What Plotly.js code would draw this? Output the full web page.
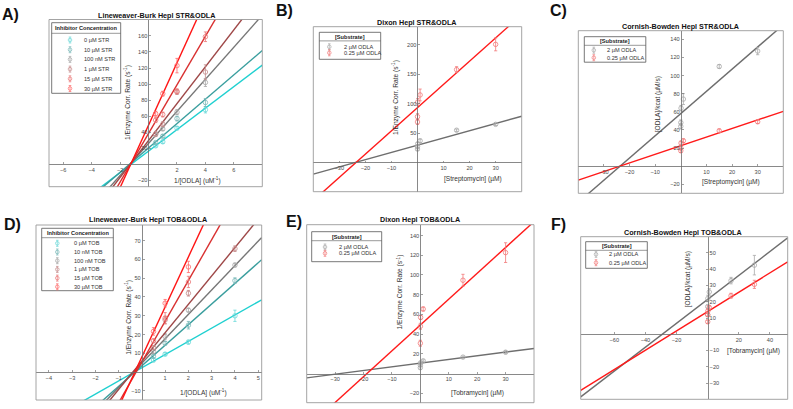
<!DOCTYPE html>
<html>
<head>
<meta charset="utf-8">
<script src="https://cdn.plot.ly/plotly-3.0.1.min.js"></script>
<style>body{margin:0;background:#fff;} #plot{width:793px;height:409px;}</style>
</head>
<body>
<div id="plot"></div>
<script>
var W = 793, H = 409;
var FONT = 'Liberation Sans, Arial, sans-serif';

// ---- values ----
var lbX = [0.5, 1, 2, 4];                    // 1/[ODLA] (uM^-1)
var inhConc = [0, 0.01, 0.1, 1, 15, 30];     // inhibitor (uM)

var inhLine = ['#1fd0d0', '#3a9e9e', '#767676', '#9e4747', '#d93030', '#ff1414'];
var inhMark = ['#6ad9d9', '#78b8b8', '#a6a6a6', '#c48a8a', '#ea7676', '#ff6a6a'];

var strNames = ['0 µM STR', '10 µM STR', '100 nM STR', '1 µM STR', '15 µM STR', '30 µM STR'];
var strLB = [[23, 28, 45, 68], [27, 35, 57, 77], [37, 44, 65, 102],
             [38, 50, 90, 115], [55, 62, 91, 159], [63, 88, 123, 201]];
var strLBerr = [[1.5, 2, 2, 4], [1.5, 2, 3, 5], [2, 2, 3, 5],
                [3, 3, 3, 9], [3, 3, 3, 6], [3, 3, 9, 10]];
var strSlope = [13.4, 15.2, 20, 23, 30.3, 38.9];
var strIcpt = [16.4, 20.3, 26, 29.6, 38.4, 48.7];

var tobNames = ['0 µM TOB', '10 nM TOB', '100 nM TOB', '1 µM TOB', '15 µM TOB', '30 µM TOB'];
var tobLB = [[6.5, 9.6, 16, 30], [8.5, 15.4, 25, 48.7], [11, 19, 33, 57],
             [13, 27.8, 42, 65.7], [16.7, 28.7, 48, 94.7], [21.7, 36.7, 56, 122.7]];
var tobLBerr = [[1, 0.8, 1, 3], [1, 1, 2, 1.5], [1, 1.5, 1, 1],
                [1, 2, 1.5, 1.5], [1, 3, 3, 6], [2, 2, 3, 10]];
var tobSlope = [7.02, 10.96, 12.98, 15.1, 21.7, 26.6];
var tobIcpt = [2.35, 3.4, 4.8, 5.9, 5.4, 8.1];

var subNames = ['2 µM ODLA', '0.25 µM ODLA'];
var subLine = ['#6e6e6e', '#ff1a1a'];
var subMark = ['#a9a9a9', '#f27a7a'];

var strDixon = [[23, 27, 32, 37, 55, 65], [69, 78, 103, 115, 158, 201]];
var strDixonErr = [[2, 2, 2, 3, 2, 2], [4, 5, 6, 10, 5, 11]];
var strDixonSlope = [1.23, 3.95], strDixonIcpt = [29.6, 93.4];

var strCB = [[44, 48, 64, 74, 110, 127], [17, 20, 25.5, 28, 39, 49]];
var strCBerr = [[3, 3, 3, 6, 2, 4], [2, 2, 2, 2, 2, 2]];
var strCBSlope = [2.45, 0.95], strCBIcpt = [58, 22.5];

var tobDixon = [[6, 8.5, 11, 13, 16.7, 21.7], [30.8, 48, 57, 65.5, 94.7, 122.7]];
var tobDixonErr = [[1.5, 1, 1, 1, 1, 1.5], [3, 3, 2, 2, 6, 10]];
var tobDixonSlope = [0.373, 2.62], tobDixonIcpt = [10.6, 49.3];

var tobCB = [[12, 17, 22, 26, 33, 42.5], [7.7, 12, 14.3, 16.5, 23.7, 30.7]];
var tobCBerr = [[1, 1, 2, 2, 2, 6], [1, 1, 1, 1, 1.5, 2.5]];
var tobCBSlope = [0.735, 0.594], tobCBIcpt = [21.5, 14];

// tick labels
var tickAx = [-6, -4, -2, 2, 4, 6], tickAy = [-20, 20, 40, 60, 80, 100, 120, 140, 160];
var tickBx = [-30, -20, -10, 10, 20, 30], tickBy = [50, 100, 150, 200];
var tickCx = [-30, -20, -10, 10, 20, 30], tickCy = [-20, 20, 40, 60, 80, 100, 120, 140];
var tickDx = [-4, -3, -2, -1, 1, 2, 3, 4, 5], tickDy = [-10, 10, 20, 30, 40, 50, 60, 70];
var tickEx = [-30, -20, -10, 10, 20, 30], tickEy = [-20, 20, 40, 60, 80, 100, 120, 140];
var tickFx = [-60, -40, -20, 20, 40], tickFy = [-30, -20, -10, 10, 20, 30, 40, 50];

// ---- panel layout (pixel boxes) ----
var ylabLB = '1/Enzyme Corr. Rate (s<sup>-1</sup>)';
var ylabCB = '[ODLA]/kcat (µM/s)';
var panels = [
  {box: [49, 19.5, 262.3, 186.7], xr: [-7, 8], yr: [-28, 180.5], xt: tickAx, yt: tickAy,
   title: 'Lineweaver-Burk Hepl STR&ODLA', tpos: [156, 15], letter: 'A)', lpos: [10, 14],
   xlab: '1/[ODLA] (uM<sup>-1</sup>)', xlpos: [197, 180], ylab: ylabLB, ylpos: [127, 103]},
  {box: [313.3, 26.7, 521.7, 191.7], xr: [-40, 40], yr: [-49.5, 231], xt: tickBx, yt: tickBy,
   title: 'Dixon Hepl STR&ODLA', tpos: [416.7, 22.5], letter: 'B)', lpos: [284, 11],
   xlab: '[Streptomycin] (µM)', xlpos: [473, 179], ylab: ylabLB, ylpos: [395, 98]},
  {box: [578.3, 30.7, 783.3, 193.3], xr: [-40, 40], yr: [-30, 149.5], xt: tickCx, yt: tickCy,
   title: 'Cornish-Bowden Hepl STR&ODLA', tpos: [680.7, 26.2], letter: 'C)', lpos: [558, 11],
   xlab: '[Streptomycin] (µM)', xlpos: [731, 182.3], ylab: ylabCB, ylpos: [658.3, 104]},
  {box: [36, 225, 261.7, 400], xr: [-4.55, 5.15], yr: [-14.8, 78.3], xt: tickDx, yt: tickDy,
   title: 'Lineweaver-Burk Hepl TOB&ODLA', tpos: [148.3, 219.5], letter: 'D)', lpos: [12.5, 224],
   xlab: '1/[ODLA] (uM<sup>-1</sup>)', xlpos: [203.3, 392.7], ylab: ylabLB, ylpos: [128.3, 317.5]},
  {box: [306.7, 224.7, 534, 402.7], xr: [-40, 40], yr: [-29.5, 151], xt: tickEx, yt: tickEy,
   title: 'Dixon Hepl TOB&ODLA', tpos: [420, 219.8], letter: 'E)', lpos: [294, 221],
   xlab: '[Tobramycin] (µM)', xlpos: [477.3, 392.7], ylab: ylabLB, ylpos: [400, 292.5]},
  {box: [580.7, 236.7, 787.7, 399.3], xr: [-81.6, 51.4], yr: [-40, 60], xt: tickFx, yt: tickFy,
   ySide: 'right',
   title: 'Cornish-Bowden Hepl TOB&ODLA', tpos: [683.3, 232.2], letter: 'F)', lpos: [558, 224],
   xlab: '[Tobramycin] (µM)', xlpos: [753.3, 350.7], ylab: ylabCB, ylpos: [688.3, 279]}
];

var layout = {
  width: W, height: H, margin: {l: 0, r: 0, t: 0, b: 0},
  paper_bgcolor: '#fff', plot_bgcolor: 'rgba(0,0,0,0)',
  showlegend: false, font: {family: FONT, color: '#333'},
  shapes: [], annotations: []
};
var data = [];

function fx(x) { return x / W; }
function fy(y) { return 1 - y / H; }

function note(text, x, y, size, opts) {
  var a = {text: text, x: fx(x), y: fy(y), xref: 'paper', yref: 'paper', showarrow: false,
           xanchor: 'center', yanchor: 'middle', font: {size: size, family: FONT, color: '#333'}};
  for (var k in opts) a[k] = opts[k];
  layout.annotations.push(a);
}

panels.forEach(function (p, i) {
  var sx = i === 0 ? '' : String(i + 1);
  var xd = [fx(p.box[0]), fx(p.box[2])];
  var yd = [fy(p.box[3]), fy(p.box[1])];
  var xPos = xd[0] + (0 - p.xr[0]) / (p.xr[1] - p.xr[0]) * (xd[1] - xd[0]);
  var yPos = yd[0] + (0 - p.yr[0]) / (p.yr[1] - p.yr[0]) * (yd[1] - yd[0]);
  var common = {showgrid: false, zeroline: false, showline: true, linecolor: '#6b6b6b', linewidth: 0.8,
                ticks: 'inside', ticklen: 2, tickwidth: 0.7, tickcolor: '#777',
                tickfont: {size: 5.6, family: FONT, color: '#4a4a4a'}, tickmode: 'array', fixedrange: true};
  var xa = Object.assign({}, common, {domain: xd, range: p.xr, anchor: 'free', position: yPos, tickvals: p.xt});
  var ya = Object.assign({}, common, {domain: yd, range: p.yr, anchor: 'free', position: xPos,
                                      side: p.ySide || 'left', tickvals: p.yt});
  layout['xaxis' + sx] = xa;
  layout['yaxis' + sx] = ya;
  layout.shapes.push({type: 'rect', xref: 'paper', yref: 'paper', x0: xd[0], x1: xd[1], y0: yd[0], y1: yd[1],
                      line: {color: '#9a9a9a', width: 0.9}, layer: 'above'});
  note('<b>' + p.title + '</b>', p.tpos[0], p.tpos[1], 7.2, {font: {size: 7.2, family: FONT, color: '#111'}});
  note('<b>' + p.letter + '</b>', p.lpos[0], p.lpos[1], 16, {font: {size: 16, family: FONT, color: '#111'}});
  note(p.xlab, p.xlpos[0], p.xlpos[1], 6.6, {});
  note(p.ylab, p.ylpos[0], p.ylpos[1], 6.6, {textangle: -90});
  p.xa = 'x' + sx; p.ya = 'y' + sx;
});

function addSeries(p, xs, ys, errs, slope, icpt, lineCol, markCol) {
  var x0 = p.xr[0], x1 = p.xr[1];
  data.push({x: [x0, x1], y: [icpt + slope * x0, icpt + slope * x1], xaxis: p.xa, yaxis: p.ya,
             mode: 'lines', line: {color: lineCol, width: 1.4}, hoverinfo: 'skip'});
  data.push({x: xs, y: ys, xaxis: p.xa, yaxis: p.ya, mode: 'markers',
             marker: {symbol: 'circle-open', size: 4.5, color: markCol, line: {width: 0.8}},
             error_y: {type: 'data', array: errs, color: markCol, thickness: 0.8, width: 1.6}});
}

for (var i = 0; i < 6; i++) {
  addSeries(panels[0], lbX, strLB[i], strLBerr[i], strSlope[i], strIcpt[i], inhLine[i], inhMark[i]);
  addSeries(panels[3], lbX, tobLB[i], tobLBerr[i], tobSlope[i], tobIcpt[i], inhLine[i], inhMark[i]);
}
for (var j = 0; j < 2; j++) {
  addSeries(panels[1], inhConc, strDixon[j], strDixonErr[j], strDixonSlope[j], strDixonIcpt[j], subLine[j], subMark[j]);
  addSeries(panels[2], inhConc, strCB[j], strCBerr[j], strCBSlope[j], strCBIcpt[j], subLine[j], subMark[j]);
  addSeries(panels[4], inhConc, tobDixon[j], tobDixonErr[j], tobDixonSlope[j], tobDixonIcpt[j], subLine[j], subMark[j]);
  addSeries(panels[5], inhConc, tobCB[j], tobCBerr[j], tobCBSlope[j], tobCBIcpt[j], subLine[j], subMark[j]);
}

// ---- MATLAB style legends (drawn as shapes + text) ----
function drawLegend(box, title, names, cols, titleDy, sepDy, item0, step, gOff, tOff) {
  var L = box[0], T = box[1], R = box[2], B = box[3];
  layout.shapes.push({type: 'rect', xref: 'paper', yref: 'paper', x0: fx(L), x1: fx(R), y0: fy(B), y1: fy(T),
                      line: {color: '#555', width: 0.8}, fillcolor: '#fff', layer: 'above'});
  layout.shapes.push({type: 'line', xref: 'paper', yref: 'paper', x0: fx(L), x1: fx(R), y0: fy(T + sepDy), y1: fy(T + sepDy),
                      line: {color: '#555', width: 0.6}, layer: 'above'});
  note('<b>' + title + '</b>', (L + R) / 2, T + titleDy, 5.6, {font: {size: 5.6, family: FONT, color: '#222'}});
  names.forEach(function (nm, k) {
    var gy = T + item0 + k * step, gx = L + gOff, c = cols[k];
    layout.shapes.push({type: 'circle', xref: 'paper', yref: 'paper', x0: fx(gx - 1.8), x1: fx(gx + 1.8),
                        y0: fy(gy + 1.8), y1: fy(gy - 1.8), line: {color: c, width: 0.7}, layer: 'above'});
    layout.shapes.push({type: 'line', xref: 'paper', yref: 'paper', x0: fx(gx), x1: fx(gx), y0: fy(gy + 3), y1: fy(gy - 3),
                        line: {color: c, width: 0.7}, layer: 'above'});
    [gy - 3, gy + 3].forEach(function (cy) {
      layout.shapes.push({type: 'line', xref: 'paper', yref: 'paper', x0: fx(gx - 1.3), x1: fx(gx + 1.3), y0: fy(cy), y1: fy(cy),
                          line: {color: c, width: 0.7}, layer: 'above'});
    });
    note(nm, L + tOff, gy, 5.6, {xanchor: 'left', font: {size: 5.6, family: FONT, color: '#333'}});
  });
}
drawLegend([51.7, 22.7, 120.7, 93.3], 'Inhibitor Concentration', strNames, inhMark, 5.6, 10.6, 17.3, 9.7, 18.3, 30);
drawLegend([41.7, 228.3, 113.3, 290.7], 'Inhibitor Concentration', tobNames, inhMark, 5, 9.4, 15, 8.7, 15.6, 30);
drawLegend([319.3, 32.3, 380.7, 59.3], '[Substrate]', subNames, subMark, 4.6, 8.6, 14.5, 6, 10, 22.4);
drawLegend([584.3, 36.7, 645.8, 62.2], '[Substrate]', subNames, subMark, 4.6, 8.6, 13.5, 7.5, 9.5, 21);
drawLegend([311.7, 231.7, 381.7, 261.7], '[Substrate]', subNames, subMark, 4.8, 9, 15.3, 6.3, 13.3, 25);
drawLegend([585.7, 241.7, 647.3, 268.3], '[Substrate]', subNames, subMark, 4.6, 8.6, 12.6, 8.4, 10.3, 21.6);

Plotly.newPlot('plot', data, layout, {displayModeBar: false, staticPlot: true});
</script>
</body>
</html>
